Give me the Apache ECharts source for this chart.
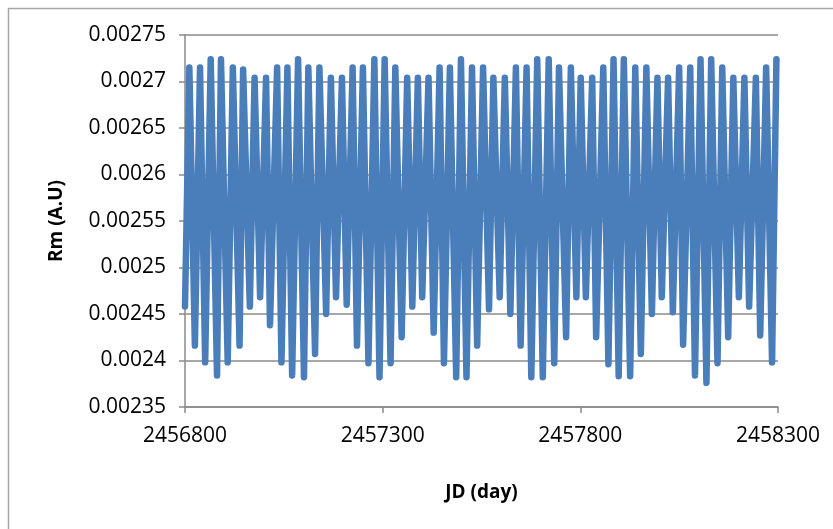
<!DOCTYPE html>
<html>
<head>
<meta charset="utf-8">
<title>Rm (A.U) vs JD</title>
<script src="https://cdn.jsdelivr.net/npm/echarts@6/dist/echarts.min.js"></script>
<style>
  html, body { margin: 0; padding: 0; background: #fff; }
  #chart { width: 833px; height: 529px; }
</style>
</head>
<body>
<div id="chart"></div>
<script>
// Earth–Moon distance, alternating apogee / perigee turning points
const JD0 = 2456800;
const jd = [
  2456800, 2456811, 2456825, 2456838, 2456851, 2456865, 2456881, 2456891, 2456908, 2456921,
  2456938, 2456947, 2456964, 2456976, 2456990, 2457005, 2457015, 2457033, 2457044, 2457059,
  2457071, 2457086, 2457101, 2457112, 2457129, 2457140, 2457157, 2457169, 2457182, 2457197,
  2457209, 2457224, 2457235, 2457250, 2457264, 2457279, 2457292, 2457305, 2457320, 2457332,
  2457348, 2457362, 2457375, 2457389, 2457400, 2457416, 2457429, 2457444, 2457455, 2457470,
  2457486, 2457498, 2457512, 2457526, 2457539, 2457554, 2457569, 2457580, 2457596, 2457609,
  2457623, 2457637, 2457649, 2457664, 2457676, 2457691, 2457705, 2457720, 2457734, 2457746,
  2457764, 2457776, 2457790, 2457801, 2457814, 2457830, 2457840, 2457858, 2457871, 2457884,
  2457897, 2457910, 2457926, 2457939, 2457953, 2457967, 2457981, 2457995, 2458006, 2458022,
  2458034, 2458050, 2458060, 2458078, 2458090, 2458104, 2458119, 2458131, 2458147, 2458159,
  2458174, 2458187, 2458201, 2458215, 2458227, 2458244, 2458255, 2458270, 2458285, 2458296
];
const rm = [
  0.002458, 0.002715, 0.002416, 0.002715, 0.002398, 0.002724, 0.002384, 0.002724, 0.002398, 0.002715,
  0.002416, 0.002713, 0.002458, 0.002704, 0.002468, 0.002704, 0.002438, 0.002715, 0.002398, 0.002715,
  0.002384, 0.002724, 0.002382, 0.002715, 0.002407, 0.002715, 0.002450, 0.002704, 0.002468, 0.002704,
  0.002460, 0.002715, 0.002416, 0.002715, 0.002397, 0.002724, 0.002382, 0.002724, 0.002397, 0.002715,
  0.002425, 0.002704, 0.002458, 0.002704, 0.002468, 0.002704, 0.002430, 0.002715, 0.002397, 0.002715,
  0.002382, 0.002724, 0.002382, 0.002715, 0.002416, 0.002715, 0.002455, 0.002704, 0.002468, 0.002704,
  0.002450, 0.002715, 0.002416, 0.002715, 0.002382, 0.002724, 0.002382, 0.002724, 0.002397, 0.002715,
  0.002425, 0.002715, 0.002468, 0.002704, 0.002468, 0.002704, 0.002425, 0.002715, 0.002396, 0.002724,
  0.002383, 0.002724, 0.002383, 0.002715, 0.002407, 0.002715, 0.002450, 0.002704, 0.002468, 0.002704,
  0.002452, 0.002715, 0.002417, 0.002715, 0.002384, 0.002724, 0.002376, 0.002724, 0.002397, 0.002715,
  0.002425, 0.002704, 0.002468, 0.002704, 0.002458, 0.002704, 0.002427, 0.002715, 0.002398, 0.002724
];

// axis settings
const xSpan = 1500, xStep = 500;
const yMin = 0.00235, yMax = 0.00275, yStep = 0.00005;

const points = jd.map((d, i) => [d - JD0, rm[i]]);

const axisGray = '#8a8a8a';
const fontFamily = '"Open Sans", "Liberation Sans", sans-serif';

const chart = echarts.init(document.getElementById('chart'), null, { renderer: 'canvas' });
chart.setOption({
  animation: false,
  backgroundColor: '#ffffff',
  graphic: [{
    type: 'rect',
    shape: { x: 8.5, y: 8.5, width: 860, height: 560 },
    style: { fill: 'none', stroke: '#a6a6a6', lineWidth: 1.5 },
    silent: true,
    z: -1
  }],
  grid: { left: 185, right: 55, top: 35, bottom: 122, containLabel: false },
  xAxis: {
    type: 'value',
    min: 0, max: xSpan, interval: xStep,
    name: 'JD (day)',
    nameLocation: 'middle',
    nameGap: 76,
    nameTextStyle: { fontFamily, fontSize: 19, fontWeight: 'bold', color: '#000' },
    axisLine: { show: true, onZero: false, lineStyle: { color: axisGray, width: 1.5 } },
    axisTick: { show: true, inside: false, length: 6, lineStyle: { color: axisGray, width: 1.5 } },
    axisLabel: {
      margin: 19,
      fontFamily, fontSize: 21, color: '#000',
      formatter: v => String(v + JD0)
    },
    splitLine: { show: false }
  },
  yAxis: {
    type: 'value',
    min: yMin, max: yMax, interval: yStep,
    name: 'Rm (A.U)',
    nameLocation: 'middle',
    nameGap: 119,
    nameRotate: 90,
    nameTextStyle: { fontFamily, fontSize: 19, fontWeight: 'bold', color: '#000' },
    axisLine: { show: true, lineStyle: { color: axisGray, width: 1.5 } },
    axisTick: { show: true, inside: false, length: 6, lineStyle: { color: axisGray, width: 1.5 } },
    axisLabel: {
      margin: 19,
      fontFamily, fontSize: 21, color: '#000',
      formatter: v => String(parseFloat(v.toFixed(6)))
    },
    splitLine: { show: true, lineStyle: { color: axisGray, width: 1.5 } }
  },
  series: [{
    type: 'line',
    data: points,
    showSymbol: false,
    symbol: 'none',
    smooth: false,
    lineStyle: { color: '#4a7ebb', width: 6.5, cap: 'round', join: 'round' }
  }]
});
</script>
</body>
</html>
